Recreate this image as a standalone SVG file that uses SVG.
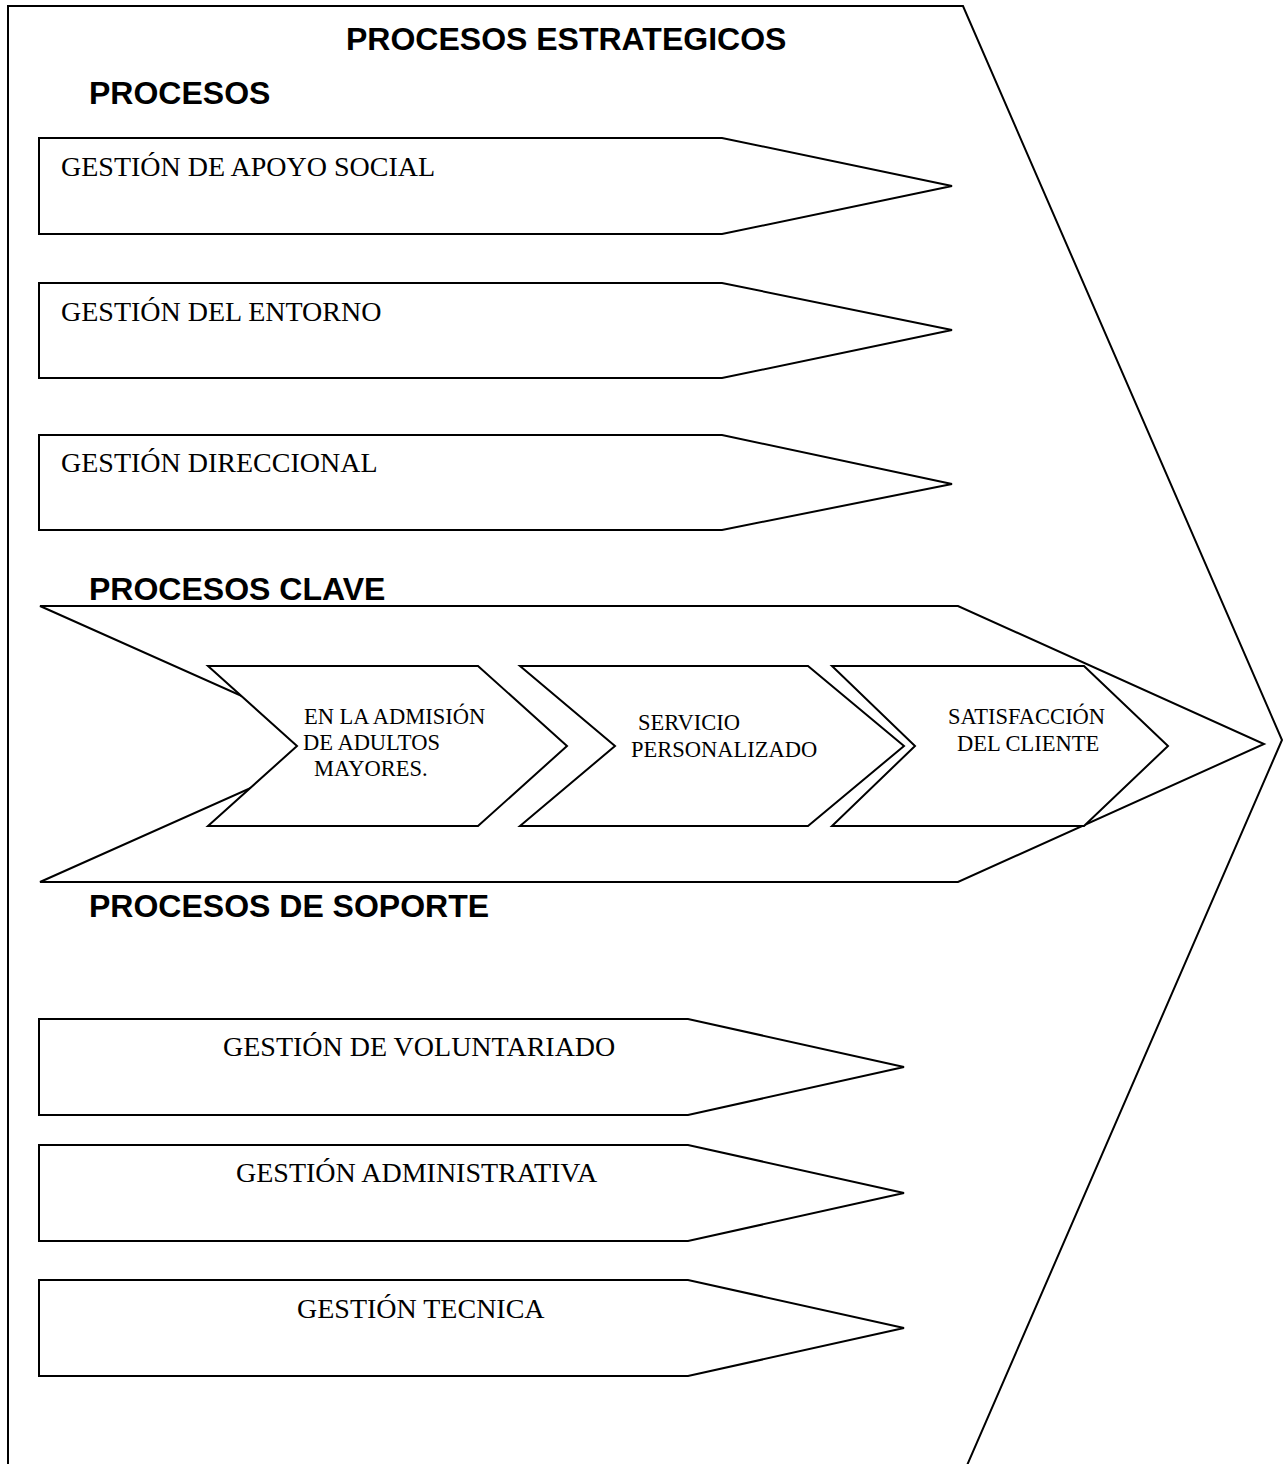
<svg xmlns="http://www.w3.org/2000/svg" width="1286" height="1464" viewBox="0 0 1286 1464">
<style>
.sh{fill:#fff;stroke:#000;stroke-width:2;stroke-linejoin:miter}
.h{font-family:"Liberation Sans",Arial,sans-serif;font-weight:bold;font-size:32px;fill:#000}
.t{font-family:"Liberation Serif","Times New Roman",serif;font-size:28px;fill:#000}
.c{font-family:"Liberation Serif","Times New Roman",serif;font-size:22.5px;fill:#000}
</style>
<rect width="1286" height="1464" fill="#fff"/>
<g id="marco">
<polygon class="sh" points="8,1470 8,6 963,6 1282,740 965,1470"/>
<text class="h" x="346" y="50">PROCESOS ESTRATEGICOS</text>
</g>
<g id="estrategicos">
<text class="h" x="89" y="104">PROCESOS</text>
<g id="apoyo-social">
<polygon class="sh" points="39,138 722,138 952,186 722,234 39,234"/>
<text class="t" x="61" y="176">GESTIÓN DE APOYO SOCIAL</text>
</g>
<g id="entorno">
<polygon class="sh" points="39,283 722,283 952,330 722,378 39,378"/>
<text class="t" x="61" y="321">GESTIÓN DEL ENTORNO</text>
</g>
<g id="direccional">
<polygon class="sh" points="39,435 722,435 952,484 722,530 39,530"/>
<text class="t" x="61" y="472">GESTIÓN DIRECCIONAL</text>
</g>
</g>
<g id="clave">
<text class="h" x="89" y="600">PROCESOS CLAVE</text>
<polygon class="sh" points="40,606 958,606 1264,744 958,882 40,882 349,744"/>
<g id="admision">
<polygon class="sh" points="208,666 478,666 567,746 478,826 208,826 297,746"/>
<text class="c" x="304" y="724">EN LA ADMISIÓN</text>
<text class="c" x="303" y="750">DE ADULTOS</text>
<text class="c" x="314" y="776">MAYORES.</text>
</g>
<g id="servicio">
<polygon class="sh" points="520,666 808,666 904,746 808,826 520,826 615,746"/>
<text class="c" x="638" y="730">SERVICIO</text>
<text class="c" x="631" y="757">PERSONALIZADO</text>
</g>
<g id="satisfaccion">
<polygon class="sh" points="832,666 1084,666 1168,746 1084,826 832,826 915,746"/>
<text class="c" x="948" y="724">SATISFACCIÓN</text>
<text class="c" x="957" y="751">DEL CLIENTE</text>
</g>
</g>
<g id="soporte">
<text class="h" x="89" y="917">PROCESOS DE SOPORTE</text>
<g id="voluntariado">
<polygon class="sh" points="39,1019 688,1019 904,1067 688,1115 39,1115"/>
<text class="t" x="223" y="1056">GESTIÓN DE VOLUNTARIADO</text>
</g>
<g id="administrativa">
<polygon class="sh" points="39,1145 688,1145 904,1193 688,1241 39,1241"/>
<text class="t" x="236" y="1182">GESTIÓN ADMINISTRATIVA</text>
</g>
<g id="tecnica">
<polygon class="sh" points="39,1280 688,1280 904,1328 688,1376 39,1376"/>
<text class="t" x="297" y="1318">GESTIÓN TECNICA</text>
</g>
</g>
<g id="connectors"></g>
</svg>
